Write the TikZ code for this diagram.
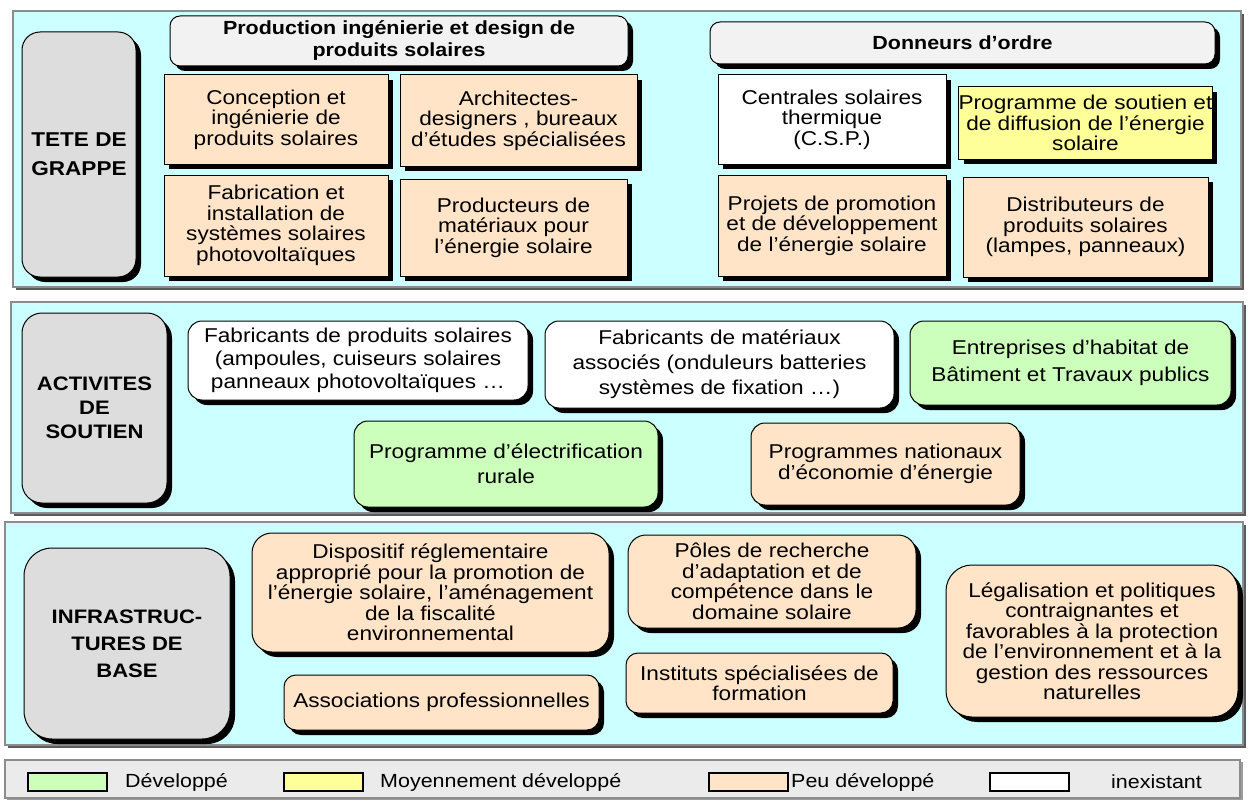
\documentclass[tikz,border=0pt]{standalone}
\usepackage{fontspec}
\setmainfont{Liberation Sans}[FakeStretch=1.13]
\usetikzlibrary{shadows}
\definecolor{cyanbg}{HTML}{CCFFFF}
\definecolor{peachc}{HTML}{FFE4C8}
\definecolor{yellowc}{HTML}{FFFF99}
\definecolor{greenc}{HTML}{CCFFBB}
\definecolor{grayc}{HTML}{DDDDDD}
\definecolor{headc}{HTML}{F2F2F2}
\definecolor{legbg}{HTML}{EBEBEB}
\definecolor{panelline}{HTML}{8C8C8C}
\definecolor{panelshadow}{HTML}{5A5A5A}
\newcommand\txtf{\fontsize{20}{20.5}\selectfont}
\newcommand\lowf{\fontsize{20}{20.5}\selectfont}
\newcommand\boldf{\fontsize{19}{22}\selectfont\bfseries}
\newcommand\mybox[7]{\node[#2, minimum width={(#5)-(#3)}, minimum height={(#6)-(#4)}] (#1) at ({((#3)+(#5))/2},{((#4)+(#6))/2}) {#7};}
\begin{document}
\begin{tikzpicture}[x=1pt,y=-1pt,
  shad/.style={drop shadow={shadow xshift=5pt,shadow yshift=-5pt,opacity=1,fill=black}},
  bx/.style={draw=black, line width=1pt, align=center, inner sep=0pt, font=\txtf, shad},
  peach/.style={bx, fill=peachc},
  yel/.style={bx, fill=yellowc},
  grn/.style={bx, fill=greenc},
  wht/.style={bx, fill=white},
  lab/.style={bx, fill=grayc, font=\boldf},
  head/.style={bx, fill=headc, font=\boldf, rounded corners=10pt},
  rnd/.style={rounded corners=14pt},
  panel/.style={fill=cyanbg, draw=panelline, line width=1.2pt},
  pshadow/.style={fill=panelshadow},
  swatch/.style={draw=black, line width=1.2pt, inner sep=0pt, minimum width=79pt, minimum height=18pt},
  legtext/.style={anchor=west, inner sep=0pt, font=\fontsize{19}{20}\selectfont}
]
\useasboundingbox (0,0) rectangle (1248,800);
\fill[white] (0,0) rectangle (1248,800);

% ---------- panels ----------
\fill[pshadow] (16,14) rectangle (1244,290);
\draw[panel] (13,11) rectangle (1241,287);
\fill[pshadow] (14,305) rectangle (1246,516);
\draw[panel] (11,302) rectangle (1243,513);
\fill[pshadow] (8,525) rectangle (1246,748);
\draw[panel] (5,522) rectangle (1243,745);

% ---------- TETE DE GRAPPE ----------
\mybox{tete}{lab, rounded corners=18pt, font=\fontsize{20}{29}\selectfont\bfseries}{22}{32}{136}{277}{TETE DE\\GRAPPE}
\mybox{hdA}{head}{170}{16}{628}{66}{Production ingénierie et design de\\produits solaires}
\mybox{hdB}{head}{710}{22}{1215}{64}{Donneurs d’ordre}
\mybox{conc}{peach}{164}{75}{388}{164}{Conception et\\ingénierie de\\produits solaires}
\mybox{arch}{peach}{400}{75}{637}{166}{Architectes-\\designers , bureaux\\d’études spécialisées}
\mybox{fabr}{peach}{164}{175}{388}{276}{Fabrication et\\installation de\\systèmes solaires\\photovoltaïques}
\mybox{prod}{peach}{400}{179}{627}{276}{Producteurs de\\matériaux pour\\l'énergie solaire}
\mybox{cent}{wht}{718}{75}{946}{164}{Centrales solaires\\thermique\\(C.S.P.)}
\mybox{prog}{yel}{963}{87}{1208}{159}{Programme de soutien et\\de diffusion de l’énergie\\solaire}
\mybox{proj}{peach}{718}{175}{946}{276}{Projets de promotion\\et de développement\\de l’énergie solaire}
\mybox{dist}{peach}{963}{177}{1208}{277}{Distributeurs de\\produits solaires\\(lampes, panneaux)}

% ---------- ACTIVITES DE SOUTIEN ----------
\mybox{acti}{lab, rounded corners=20pt, font=\fontsize{19.5}{24}\selectfont\bfseries}{22}{313}{167}{503}{ACTIVITES\\DE\\SOUTIEN}
\mybox{fpro}{wht, rnd, font=\fontsize{20}{23}\selectfont}{188}{321}{528}{400}{Fabricants de produits solaires\\(ampoules, cuiseurs solaires\\panneaux photovoltaïques …}
\mybox{fmat}{wht, rnd, font=\fontsize{20}{25}\selectfont}{545}{321}{894}{408}{Fabricants de matériaux\\associés (onduleurs batteries\\systèmes de fixation …)}
\mybox{entr}{grn, rnd, font=\fontsize{20}{27}\selectfont}{910}{321}{1231}{405}{Entreprises d’habitat de\\Bâtiment et Travaux publics}
\mybox{elec}{grn, rnd, font=\fontsize{20}{25}\selectfont}{354}{421}{658}{507}{Programme d’électrification\\rurale}
\mybox{pnat}{peach, rnd, font=\fontsize{20}{21}\selectfont}{751}{423}{1020}{505}{Programmes nationaux\\d’économie d’énergie}

% ---------- INFRASTRUCTURES DE BASE ----------
\mybox{infr}{lab, rounded corners=28pt, font=\fontsize{19.5}{27}\selectfont\bfseries}{24}{548}{230}{739}{INFRASTRUC-\\TURES DE\\BASE}
\mybox{disp}{peach, rounded corners=20pt, font=\lowf}{252}{533}{609}{652}{Dispositif réglementaire\\approprié pour la promotion de\\l’énergie solaire, l’aménagement\\de la fiscalité\\environnemental}
\mybox{asso}{peach, rounded corners=12pt}{284}{675}{599}{730}{Associations professionnelles}
\mybox{pole}{peach, rounded corners=18pt, font=\lowf}{628}{535}{916}{628}{Pôles de recherche\\d’adaptation et de\\compétence dans le\\domaine solaire}
\mybox{inst}{peach, rounded corners=12pt, font=\lowf}{626}{653}{893}{713}{Instituts spécialisées de\\formation}
\mybox{lega}{peach, rounded corners=26pt, font=\lowf}{946}{565}{1238}{717}{Légalisation et politiques\\contraignantes et\\favorables à la protection\\de l’environnement et à la\\gestion des ressources\\naturelles}

% ---------- legend ----------
\fill[panelshadow!60] (7,762) rectangle (1243,800);
\draw[fill=legbg, draw=panelline, line width=1.2pt] (5,760) rectangle (1240,798);
\node[swatch, fill=greenc] (swA) at (67.5,782) {};
\node[legtext] (ltA) at (125,782) {Développé};
\node[swatch, fill=yellowc] (swB) at (323.5,782) {};
\node[legtext] (ltB) at (380,782) {Moyennement développé};
\node[swatch, fill=peachc] (swC) at (748.5,782) {};
\node[legtext] (ltC) at (791,782) {Peu développé};
\node[swatch, fill=white] (swD) at (1029.5,782) {};
\node[legtext] (ltD) at (1111,782) {inexistant};
\end{tikzpicture}
\end{document}
